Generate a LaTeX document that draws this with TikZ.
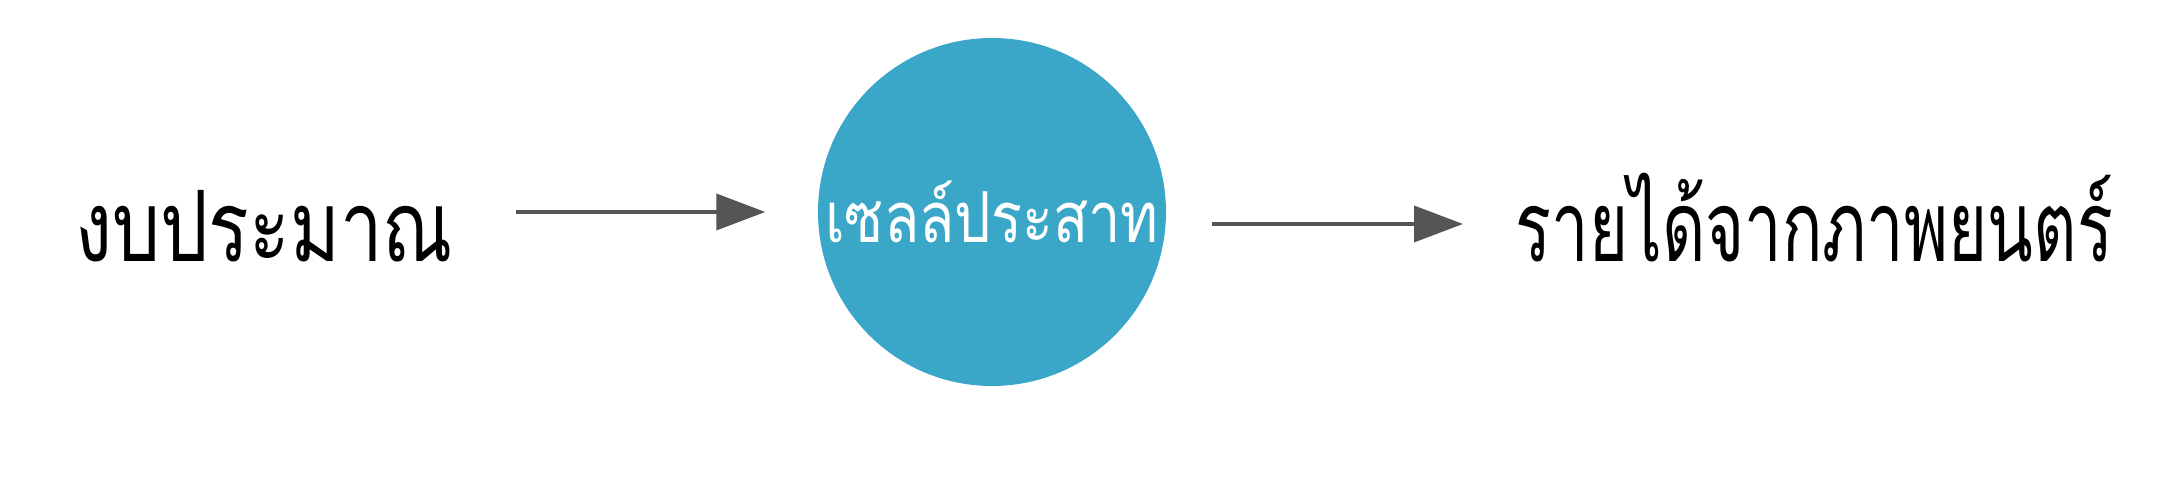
\documentclass[tikz,border=0pt]{standalone}
\usepackage{fontspec}
\newfontfamily\thaifont[Script=Thai, FakeStretch=0.77]{Loma}
\newfontfamily\thainarrow[Script=Thai, FakeStretch=0.68]{Loma}
\newfontfamily\thaicell[Script=Thai, FakeStretch=0.82]{Loma}
\usetikzlibrary{arrows.meta, positioning}

\definecolor{cellblue}{RGB}{58,166,200}
\definecolor{arrowgray}{RGB}{85,85,85}

\begin{document}
\begin{tikzpicture}[x=1cm, y=1cm,
  label/.style={inner sep=0pt, font=\thaifont\fontsize{28}{30}\selectfont},
  cell/.style={circle, fill=cellblue, minimum size=3.48cm, inner sep=0pt,
    text=white, font=\thaicell\fontsize{20}{24}\selectfont},
  flow/.style={draw=arrowgray, line width=1.1pt,
    -{Triangle[length=0.49cm, width=0.36cm]}}]

% 画布大小
\useasboundingbox (0,0) rectangle (21.78,4.8);

% 中间的圆
\node[cell] (neuron) at (9.92,2.68) {\raisebox{-0.28cm}{เซลล์ประสาท}};

% 两侧文字
\node[label, anchor=base west] (budget) at (0.75,2.18) {งบประมาณ};
\node[label, anchor=base west, font=\thainarrow\fontsize{28}{30}\selectfont] (revenue) at (15.15,2.18) {รายได้จากภาพยนตร์};

% 箭头
\draw[flow, shorten <=0.62cm, shorten >=0.52cm] (budget.east |- neuron.west) -- (neuron.west);
\draw[flow, shorten <=0.45cm, shorten >=0.52cm] ([yshift=-0.12cm]neuron.east) -- ([yshift=-0.12cm]neuron.east -| revenue.west);

\end{tikzpicture}
\end{document}
